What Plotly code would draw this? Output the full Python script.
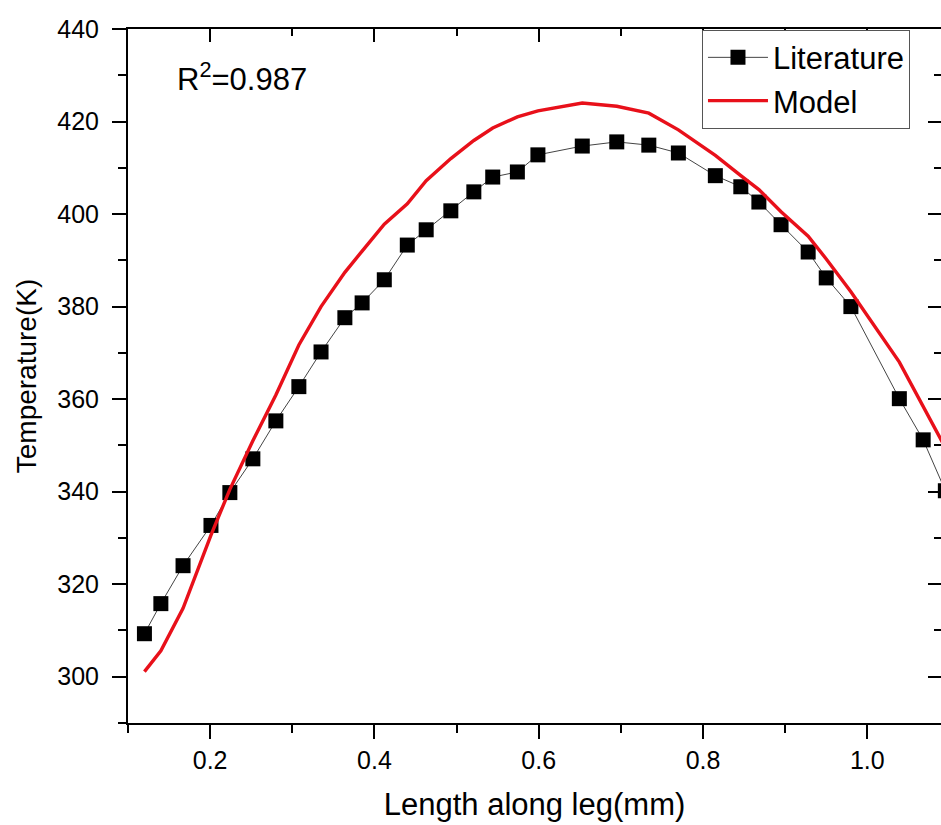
import plotly.graph_objects as go

# Literature data (black squares)
lit_x = [0.120, 0.140, 0.167, 0.201, 0.224, 0.252, 0.280, 0.308, 0.335, 0.364,
         0.385, 0.412, 0.440, 0.463, 0.493, 0.521, 0.544, 0.574, 0.599, 0.653,
         0.695, 0.734, 0.770, 0.815, 0.846, 0.868, 0.895, 0.928, 0.950, 0.980,
         1.039, 1.068, 1.095]
lit_y = [309.3, 315.8, 324.0, 332.7, 339.8, 347.1, 355.3, 362.7, 370.2, 377.6,
         380.8, 385.8, 393.3, 396.6, 400.7, 404.8, 408.0, 409.1, 412.8, 414.7,
         415.6, 414.9, 413.2, 408.3, 405.9, 402.6, 397.7, 391.8, 386.2, 380.0,
         360.1, 351.2, 340.2]

# Model (red line)
model_x = lit_x
model_y = [301.1, 305.6, 314.8, 330.6, 340.5, 351.0, 360.9, 371.7, 380.0, 387.4,
           392.0, 397.8, 402.2, 407.2, 412.0, 415.9, 418.6, 421.0, 422.3, 424.0,
           423.3, 421.8, 418.2, 412.7, 408.3, 405.3, 400.5, 395.2, 390.3, 383.2,
           368.0, 358.6, 349.5]

x_range = [0.1, 1.0897]
y_range = [290, 440]

FONT = "Liberation Sans, Arial, sans-serif"

fig = go.Figure()
fig.add_trace(go.Scatter(
    x=lit_x, y=lit_y, mode="lines+markers", name="Literature",
    line=dict(color="#444444", width=1),
    marker=dict(symbol="square", size=15, color="black"),
))
fig.add_trace(go.Scatter(
    x=model_x, y=model_y, mode="lines", name="Model",
    line=dict(color="#e8101a", width=3.4),
))
# invisible trace so the top/right frame axes get drawn
fig.add_trace(go.Scatter(
    x=lit_x[:1], y=lit_y[:1], xaxis="x2", yaxis="y2", mode="markers",
    marker=dict(opacity=0), showlegend=False, hoverinfo="skip",
))

axis_common = dict(showline=True, linecolor="black", linewidth=2,
                   showgrid=False, zeroline=False, tickcolor="black", tickwidth=2)

fig.update_layout(
    width=941, height=825,
    margin=dict(l=128, r=0, t=29, b=102),
    paper_bgcolor="white", plot_bgcolor="white",
    font=dict(family=FONT, color="black"),
    showlegend=True,
    legend=dict(x=0.706, y=0.999, xanchor="left", yanchor="top",
                bgcolor="white", bordercolor="#555555", borderwidth=1,
                font=dict(size=31, family=FONT), tracegroupgap=0,
                itemwidth=60),
    xaxis=dict(range=x_range, dtick=0.2, tick0=0, tickformat=".1f",
               ticks="outside", ticklen=14,
               minor=dict(dtick=0.1, ticks="outside", ticklen=8,
                          tickcolor="black", tickwidth=2),
               tickfont=dict(size=25),
               title=dict(text="Length along leg(mm)", font=dict(size=31), standoff=20),
               **axis_common),
    yaxis=dict(range=y_range, dtick=20, tick0=300,
               ticks="outside", ticklen=14,
               minor=dict(dtick=10, ticks="outside", ticklen=8,
                          tickcolor="black", tickwidth=2),
               tickfont=dict(size=25), ticklabelstandoff=8,
               title=dict(text="Temperature(K)", font=dict(size=28), standoff=12),
               **axis_common),
    xaxis2=dict(range=x_range, overlaying="x", side="top", matches="x",
                dtick=0.2, tick0=0, ticks="inside", ticklen=13,
                minor=dict(dtick=0.1, ticks="inside", ticklen=7,
                           tickcolor="black", tickwidth=2),
                showticklabels=False, **axis_common),
    yaxis2=dict(range=y_range, overlaying="y", side="right", matches="y",
                dtick=20, tick0=300, ticks="inside", ticklen=13,
                minor=dict(dtick=10, ticks="inside", ticklen=7,
                           tickcolor="black", tickwidth=2),
                showticklabels=False, **axis_common),
    annotations=[dict(
        text="R<sup>2</sup>=0.987", xref="paper", yref="paper",
        x=0.058, y=0.931, xanchor="left", yanchor="middle",
        showarrow=False, font=dict(size=31, family=FONT),
    )],
)

fig.write_html("out.html")
